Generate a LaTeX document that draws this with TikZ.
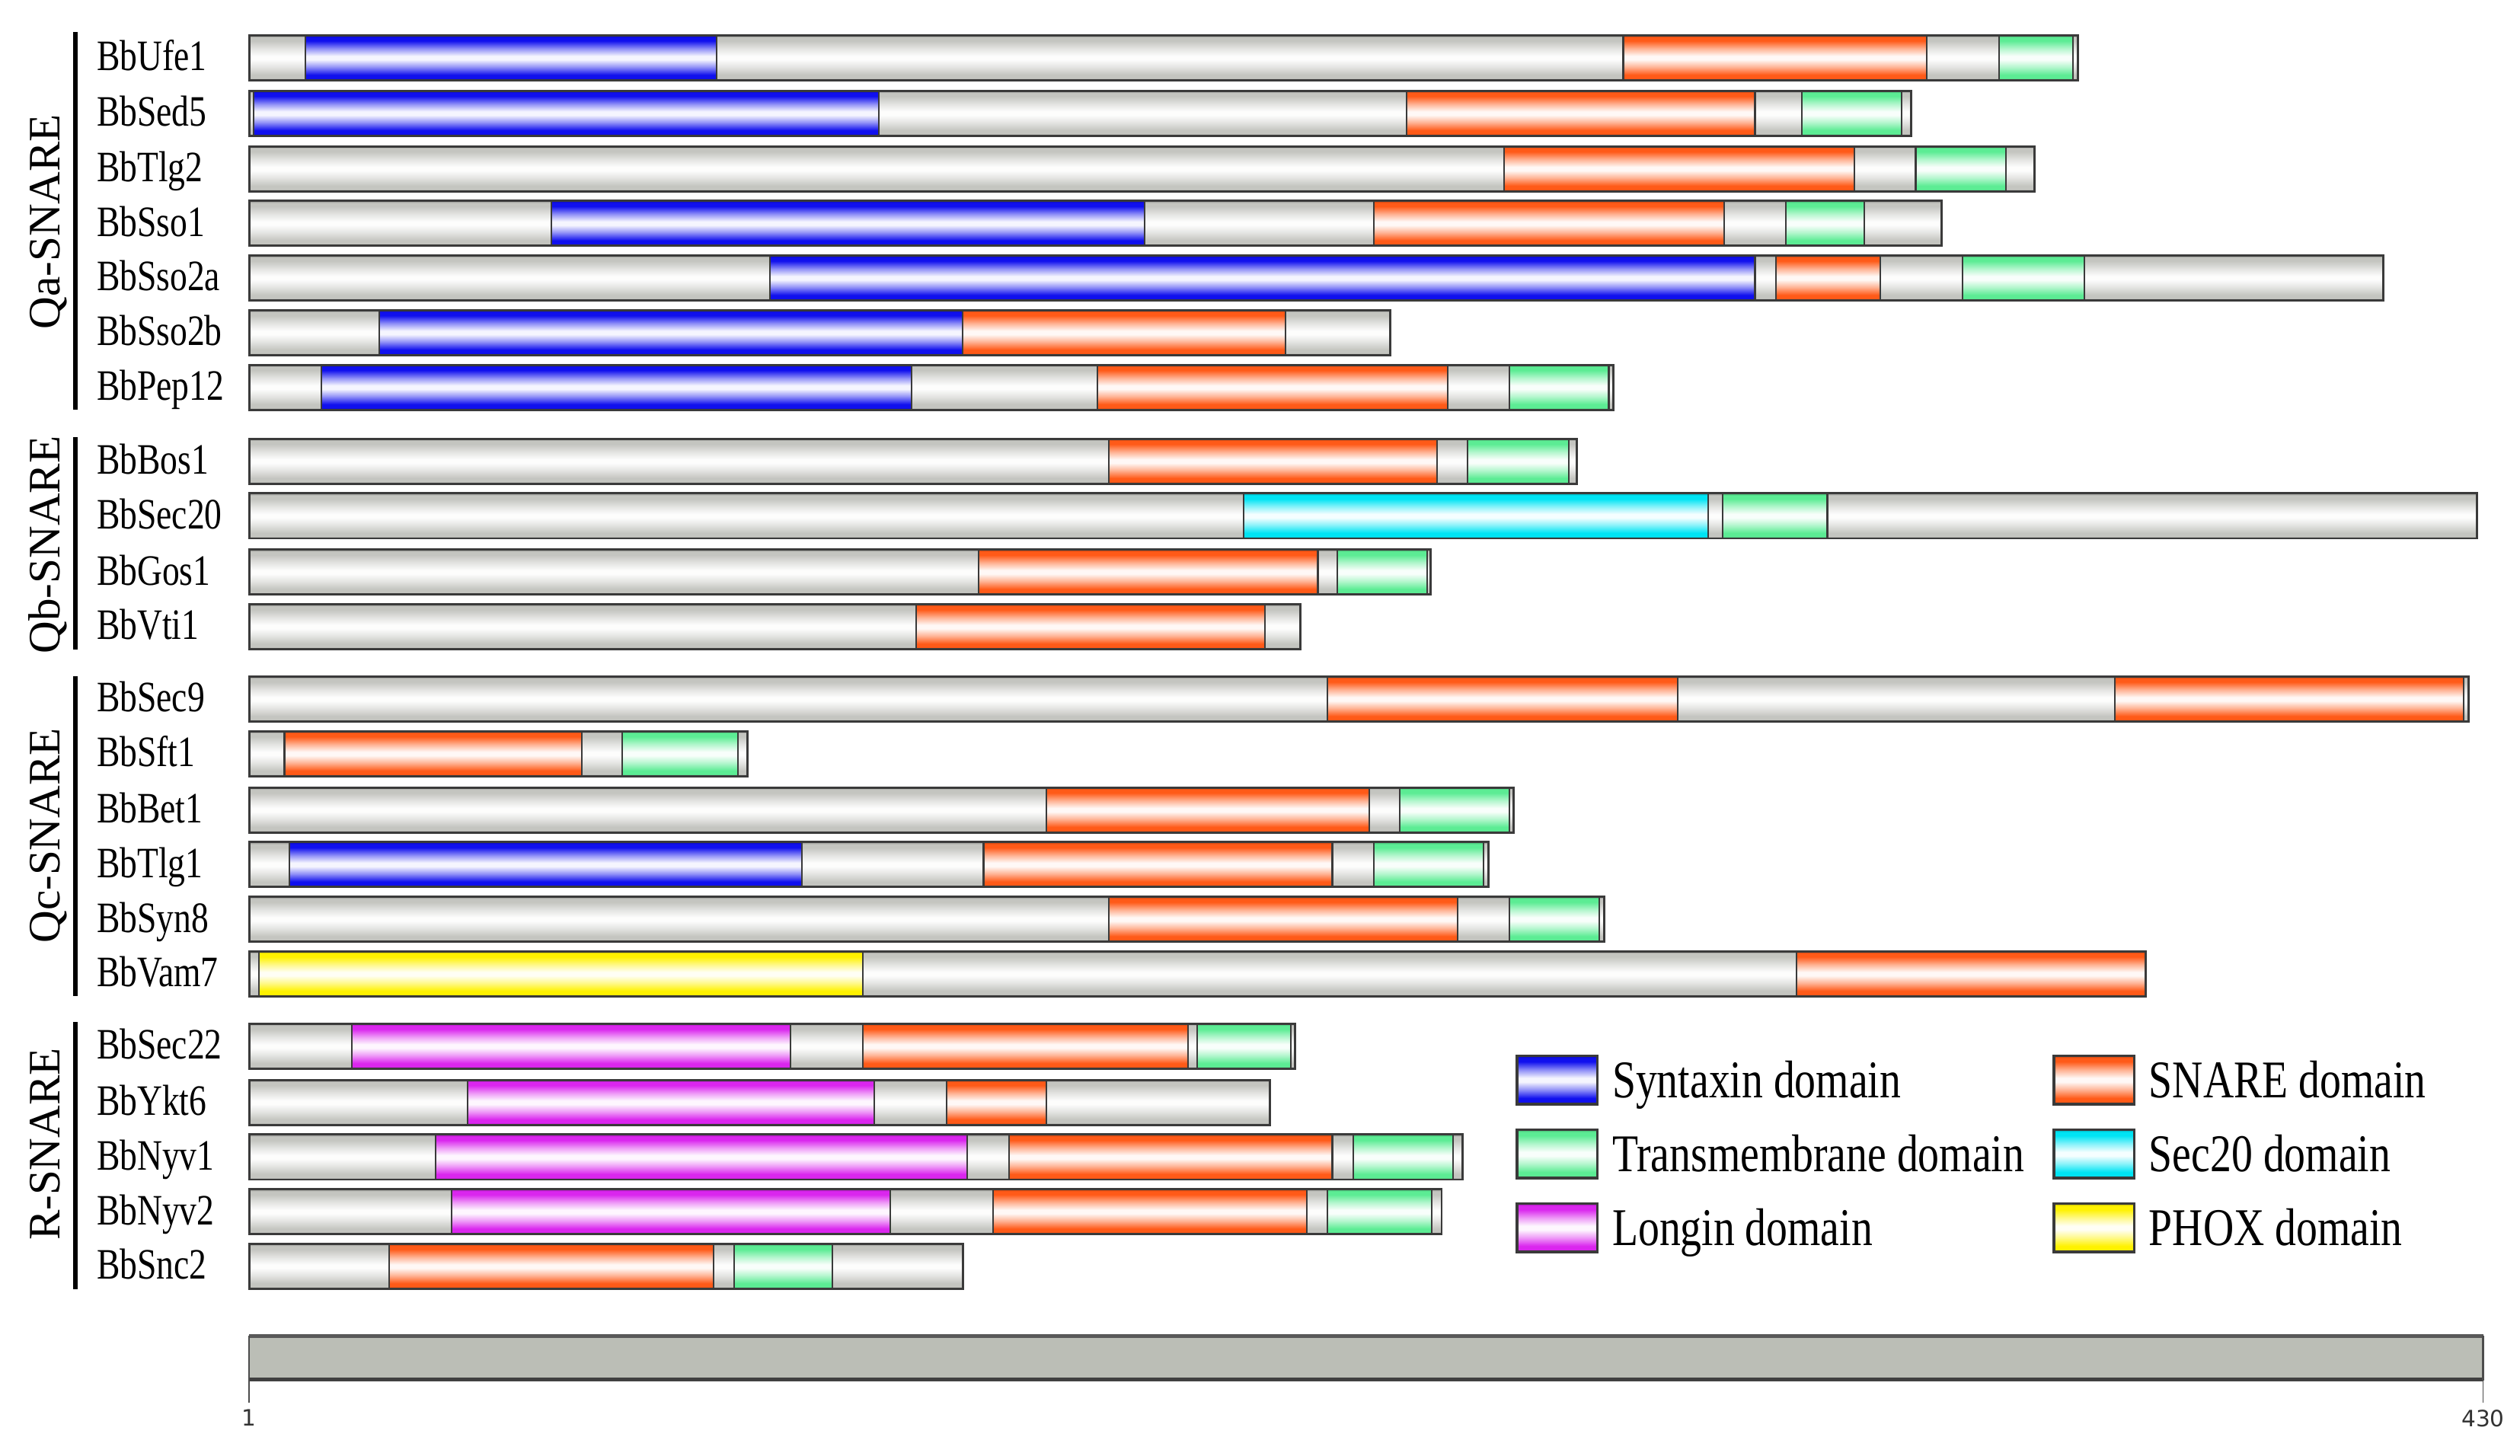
\documentclass[tikz,border=0pt]{standalone}
\usepackage{fontspec}
\setmainfont{Liberation Serif}
\newfontfamily\condfont[FakeStretch=0.8]{Liberation Serif}
\newfontfamily\scalefont{DejaVu Sans}
\definecolor{cgray}{HTML}{C4C5C0}
\definecolor{cblue}{HTML}{1010EE}
\definecolor{corange}{HTML}{FF5A18}
\definecolor{cgreen}{HTML}{5CEC94}
\definecolor{ccyan}{HTML}{00E4F4}
\definecolor{cmag}{HTML}{DA26EE}
\definecolor{cyellow}{HTML}{FFF200}
\definecolor{bord}{HTML}{3A3A3A}
\definecolor{scalefill}{HTML}{BBBEB6}
\newcommand\mkshade[2]{\pgfdeclareverticalshading{#1}{100bp}{color(0bp)=(#2!75!black); color(25bp)=(#2!75!black); color(27.5bp)=(#2); color(31bp)=(#2); color(40bp)=(#2!45!white); color(48bp)=(#2!4!white); color(52bp)=(#2!4!white); color(60bp)=(#2!45!white); color(69bp)=(#2); color(72.5bp)=(#2); color(75bp)=(#2!75!black); color(100bp)=(#2!75!black)}}
\mkshade{shgray}{cgray}
\mkshade{shblue}{cblue}
\mkshade{shorange}{corange}
\mkshade{shgreen}{cgreen}
\mkshade{shcyan}{ccyan}
\mkshade{shmag}{cmag}
\mkshade{shyellow}{cyellow}
\tikzset{
  dom/.style={shade, shading=#1, draw=bord, line width=1pt},
  outl/.style={draw=bord, line width=1.4pt},
  lbl/.style={font=\condfont\fontsize{27}{27}\selectfont, anchor=base west, inner sep=0pt},
  grp/.style={font=\fontsize{28}{28}\selectfont, rotate=90, anchor=base, inner sep=0pt},
  leg/.style={font=\condfont\fontsize{33}{33}\selectfont, anchor=base west, inner sep=0pt},
  gline/.style={line width=3pt, black},
  sclbl/.style={font=\scalefont\fontsize{14}{14}\selectfont, text=black!80, inner sep=0.5pt, anchor=north},
}
\newcommand\protbar[4]{%
  \node[lbl] (l#2) at (60,{#1+8}) {#2};
  \path[dom=shgray, draw=none] (155,{#1-14}) rectangle (#3,{#1+14});
  \foreach \a/\b/\c in {#4} {\path[dom=\c] (\a,{#1-14}) rectangle (\b,{#1+14});}
  \draw[outl] (155,{#1-14}) rectangle (#3,{#1+14});
}
\newcommand\legbox[5]{%
  \path[dom=#3, line width=1.6pt] (#1,{#2-15}) rectangle ({#1+50},{#2+15});
  \node[leg] (#5) at ({#1+59},{#2+11}) {#4};
}
\begin{document}
\begin{tikzpicture}[x=1pt,y=-1pt]
\useasboundingbox (0,0) rectangle (1568,906);
% group labels and lines
\node[grp] (gQa) at (37,138) {Qa-SNARE};
\node[grp] (gQb) at (37,339) {Qb-SNARE};
\node[grp] (gQc) at (37,520) {Qc-SNARE};
\node[grp] (gR) at (37,712) {R-SNARE};
\draw[gline] (47,20) -- (47,255);
\draw[gline] (47,272) -- (47,404);
\draw[gline] (47,421) -- (47,620);
\draw[gline] (47,636) -- (47,802);
% Qa
\protbar{36}{BbUfe1}{1293}{190/446/shblue, 1010/1199/shorange, 1244/1290/shgreen}
\protbar{70.5}{BbSed5}{1189}{158/547/shblue, 875/1092/shorange, 1121/1183/shgreen}
\protbar{105}{BbTlg2}{1266}{936/1154/shorange, 1192/1248/shgreen}
\protbar{139}{BbSso1}{1208}{343/712/shblue, 855/1073/shorange, 1111/1160/shgreen}
\protbar{173}{BbSso2a}{1483}{479/1092/shblue, 1105/1170/shorange, 1221/1297/shgreen}
\protbar{207}{BbSso2b}{865}{236/599/shblue, 599/800/shorange}
\protbar{241}{BbPep12}{1004}{200/567/shblue, 683/901/shorange, 939/1001/shgreen}
% Qb
\protbar{287}{BbBos1}{981}{690/894/shorange, 913/976/shgreen}
\protbar{321}{BbSec20}{1541}{774/1063/shcyan, 1072/1137/shgreen}
\protbar{356}{BbGos1}{890}{609/820/shorange, 832/888/shgreen}
\protbar{390}{BbVti1}{809}{570/787/shorange}
% Qc
\protbar{435}{BbSec9}{1536}{826/1044/shorange, 1316/1533/shorange}
\protbar{469}{BbSft1}{465}{177/362/shorange, 387/459/shgreen}
\protbar{504}{BbBet1}{942}{651/852/shorange, 871/939/shgreen}
\protbar{538}{BbTlg1}{926}{180/499/shblue, 612/829/shorange, 855/923/shgreen}
\protbar{572}{BbSyn8}{998}{690/907/shorange, 939/995/shgreen}
\protbar{606}{BbVam7}{1335}{161/537/shyellow, 1118/1335/shorange}
% R
\protbar{651}{BbSec22}{806}{219/492/shmag, 537/739/shorange, 745/803/shgreen}
\protbar{686}{BbYkt6}{790}{291/544/shmag, 589/651/shorange}
\protbar{720}{BbNyv1}{910}{271/602/shmag, 628/829/shorange, 842/904/shgreen}
\protbar{754}{BbNyv2}{897}{281/554/shmag, 618/813/shorange, 826/891/shgreen}
\protbar{788}{BbSnc2}{599}{242/444/shorange, 457/518/shgreen}
% legend
\legbox{944}{672}{shblue}{Syntaxin domain}{legSyn}
\legbox{944}{718}{shgreen}{Transmembrane domain}{legTM}
\legbox{944}{764}{shmag}{Longin domain}{legLon}
\legbox{1278}{672}{shorange}{SNARE domain}{legSNARE}
\legbox{1278}{718}{shcyan}{Sec20 domain}{legSec}
\legbox{1278}{764}{shyellow}{PHOX domain}{legPHOX}
% scale bar
\fill[scalefill] (155,831) rectangle (1545,859);
\draw[line width=2.5pt, draw=black!65] (155,831.5) -- (1545,831.5);
\draw[line width=2.5pt, draw=black!75] (155,858.5) -- (1545,858.5);
\draw[line width=1pt, draw=black!70] (155,831) -- (155,859);
\draw[line width=1pt, draw=black!70] (1545,831) -- (1545,859);
\node[sclbl] (s1) at (155,876.5) {1};
\node[sclbl] (s430) at (1545,876.5) {430};
\draw[line width=0.8pt, draw=black!70] (155,859) -- (155,873);
\draw[line width=0.8pt, draw=black!70] (1545,859) -- (1545,873);
\end{tikzpicture}
\end{document}
